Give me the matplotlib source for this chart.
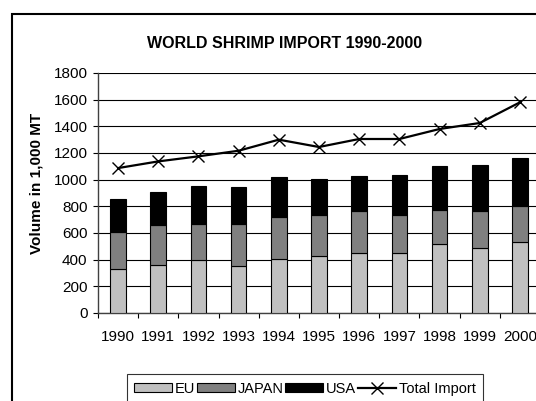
import numpy as np
import matplotlib.pyplot as plt
from matplotlib.patches import Rectangle

plt.rcParams['font.family'] = ['Liberation Sans', 'DejaVu Sans']

years = ['1990', '1991', '1992', '1993', '1994', '1995', '1996', '1997', '1998', '1999', '2000']
eu = [330, 360, 395, 355, 405, 430, 450, 450, 515, 490, 535]
japan = [280, 297, 272, 312, 315, 302, 312, 282, 257, 272, 270]
usa = [245, 250, 283, 275, 297, 275, 265, 305, 328, 348, 360]
total_import = [1087, 1137, 1175, 1217, 1300, 1245, 1305, 1305, 1380, 1425, 1580]

W, H = 536, 401
fig = plt.figure(figsize=(W / 100, H / 100), dpi=100)
ax = fig.add_axes([98 / W, 1 - 313 / H, 442 / W, 240 / H])

x = np.arange(len(years))
eu = np.array(eu)
japan = np.array(japan)
usa = np.array(usa)

bar_w = 0.39
b1 = ax.bar(x, eu, bar_w, color='#c0c0c0', edgecolor='black', linewidth=0.8, label='EU', zorder=3)
b2 = ax.bar(x, japan, bar_w, bottom=eu, color='#808080', edgecolor='black', linewidth=0.8, label='JAPAN', zorder=3)
b3 = ax.bar(x, usa, bar_w, bottom=eu + japan, color='black', edgecolor='black', linewidth=0.8, label='USA', zorder=3)
ln, = ax.plot(x, total_import, color='black', linewidth=1.6, marker='x', markersize=8,
              markeredgewidth=1.0, label='Total Import', zorder=4)

ax.set_xlim(-0.5, len(years) - 0.5)
ax.set_ylim(0, 1800)
ax.set_yticks(np.arange(0, 1801, 200))
ax.yaxis.grid(True, color='black', linewidth=0.8, zorder=0)
ax.set_axisbelow(True)

ax.set_xticks(x)
ax.set_xticklabels(years)
ax.set_xticks(np.arange(-0.5, len(years), 1.0), minor=True)
ax.tick_params(axis='x', which='major', length=0, pad=12, labelsize=11)
ax.tick_params(axis='x', which='minor', length=3.5, width=0.8, direction='out')
ax.tick_params(axis='y', length=3.5, width=0.8, pad=4, labelsize=11)

for s in ['top', 'right']:
    ax.spines[s].set_visible(False)
ax.spines['left'].set_color('#404040')
ax.spines['bottom'].set_color('#404040')
ax.spines['left'].set_linewidth(1.0)
ax.spines['bottom'].set_linewidth(1.0)

fig.text(285 / W, 1 - 43 / H, 'WORLD SHRIMP IMPORT 1990-2000', ha='center', va='center',
         fontsize=11.5, fontweight='bold')
fig.text(37 / W, 1 - 183 / H, 'Volume in 1,000 MT', ha='center', va='center',
         rotation=90, fontsize=11, fontweight='bold')

# outer chart frame
fig.patches.append(Rectangle((12 / W, -0.05), 1.0, 1 - 14 / H + 0.05, transform=fig.transFigure,
                             fill=False, edgecolor='black', linewidth=1.5))

leg = fig.legend(handles=[b1, b2, b3, ln], loc='lower left',
                 bbox_to_anchor=(127 / W, -0.005, 356 / W, 32 / H), mode='expand',
                 ncol=4, fontsize=10.5, frameon=True, fancybox=False, edgecolor='black',
                 handlelength=2.6, handleheight=0.6, handletextpad=0.2, columnspacing=0.6,
                 borderpad=0.5, borderaxespad=0)
leg.get_frame().set_linewidth(0.8)

fig.savefig('out.png', dpi=100)
